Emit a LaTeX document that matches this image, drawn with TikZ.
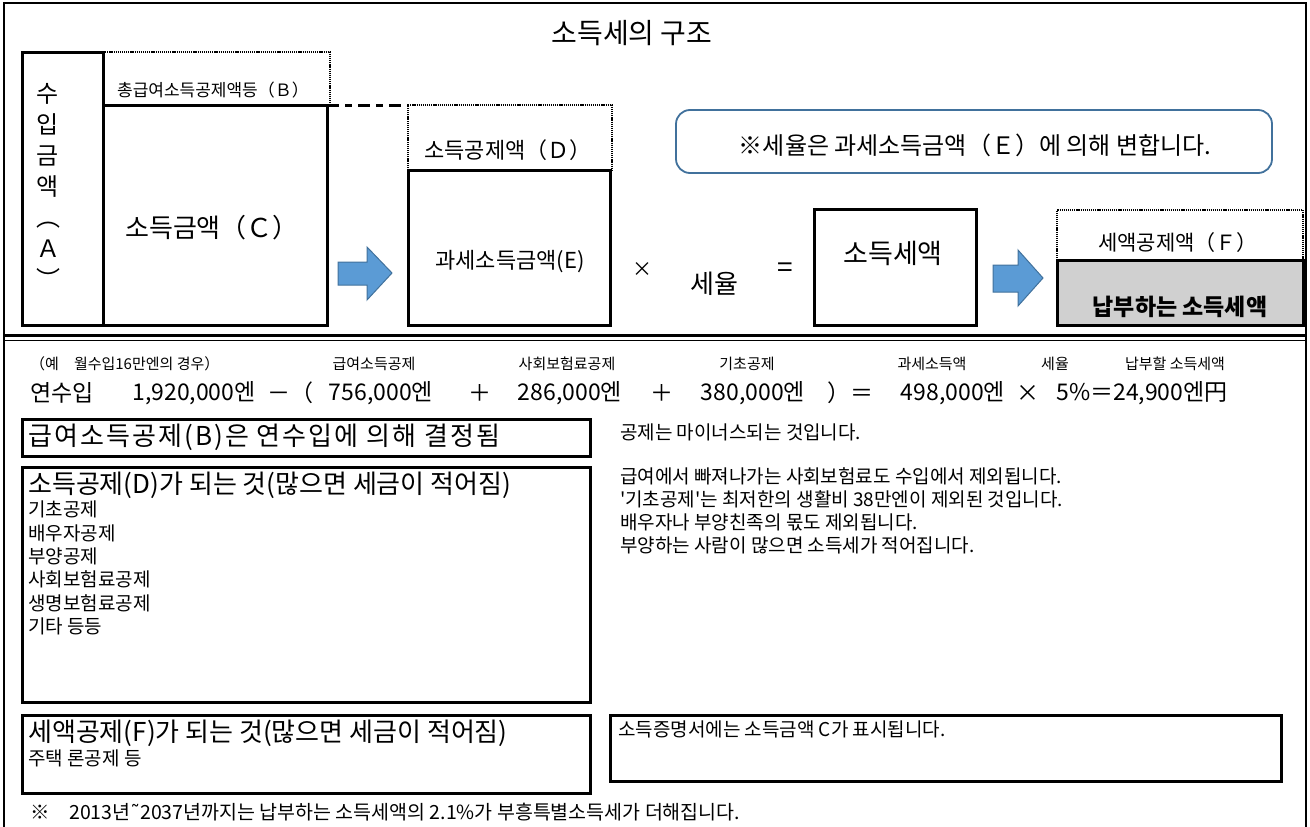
\documentclass[tikz,border=0pt]{standalone}
\usepackage{fontspec}
\setmainfont{Noto Sans CJK KR}
\newfontfamily\symfont{DejaVu Sans}
\usepackage{xcolor}

\definecolor{arrowblue}{HTML}{5B9BD5}
\definecolor{arrowedge}{HTML}{41719C}
\definecolor{paygray}{HTML}{D0D0D0}

\newcommand{\ksize}[1]{\fontsize{#1}{#1}\selectfont}

\tikzset{
    thickbox/.style = {line width = 3pt},
    dotline/.style = {line width = 1.3pt, dash pattern = on 1.2pt off 0.9pt},
    blockarrow/.style = {fill = arrowblue, draw = arrowedge, line width = 1pt},
    txt/.style = {inner sep = 0pt, anchor = west},
}

\begin{document}
\begin{tikzpicture}[x = 1pt, y = -1pt]
        \useasboundingbox (0, 0) rectangle (1310, 827);

        % frame and separator
        \draw[line width = 1.2pt] (4, 827) -- (4, 3) -- (1306, 3) -- (1306, 827);
        \draw[line width = 3pt] (4, 335) -- (1306, 335);
        \draw[line width = 1pt] (4, 340) -- (1306, 340);

        \node (title) at (632, 33) {\ksize{28}소득세의 구조};

        % income boxes
        \draw[thickbox] (22, 52) rectangle (103, 325);
        \draw[thickbox] (103, 105) rectangle (327, 325);
        \draw[dotline] (103, 52) -- (330, 52) -- (330, 105);
        \node[align = center, font = {\fontsize{24}{31}\selectfont}] (suip) at (48, 186)
            {수\\입\\금\\액\\︵\\Ａ\\︶};
        \node (blabel) at (213, 90) {\ksize{17}총급여소득공제액등（Ｂ）};
        \node (clabel) at (212, 228) {\ksize{26}소득금액（Ｃ）};

        \coordinate (ctop) at (327, 105);
        \coordinate (dtop) at (408, 105);
        \draw[line width = 3pt, dash pattern = on 12pt off 6pt on 7pt off 6pt] (ctop) -- (dtop);

        \draw[blockarrow] (338, 262) -- (367, 262) -- (367, 247) -- (392, 273)
            -- (367, 300) -- (367, 285) -- (338, 285) -- cycle;

        % taxable income
        \draw[dotline] (408, 170) -- (408, 105) -- (612, 105) -- (612, 170);
        \draw[thickbox] (408, 170) rectangle (610, 325);
        \node (dlabel) at (508, 150) {\ksize{22}소득공제액（Ｄ）};
        \node (elabel) at (510, 262) {\ksize{22}과세소득금액(E)};

        \node (times) at (642, 270) {\ksize{20}×};
        \node (rate) at (714, 284) {\ksize{26}세율};
        \node (equals) at (785, 270) {\ksize{28}=};

        \draw[thickbox] (814, 209) rectangle (976, 325);
        \node (taxlabel) at (893, 253) {\ksize{27}소득세액};

        \draw[blockarrow] (993, 265) -- (1018, 265) -- (1018, 250) -- (1043, 278)
            -- (1018, 306) -- (1018, 292) -- (993, 292) -- cycle;

        \draw[dotline] (1057, 260) -- (1057, 210) -- (1303, 210) -- (1303, 260);
        \draw[thickbox, fill = paygray] (1057, 260) rectangle (1303, 325);
        \node (flabel) at (1178, 243) {\ksize{21}세액공제액（Ｆ）};
        \node (paylabel) at (1180, 307) {\ksize{23}\bfseries 납부하는 소득세액};

        \draw[arrowedge, line width = 1.8pt, rounded corners = 14pt] (676, 110) rectangle (1272, 173);
        \node (note) at (975, 145) {\ksize{24}※세율은 과세소득금액（Ｅ）에 의해 변합니다.};

        % example calculation
        \node[txt] (example) at (30, 364) {\ksize{15}（예　월수입16만엔의 경우）};
        \node (kyuyo) at (374, 364) {\ksize{15}급여소득공제};
        \node (shakai) at (567, 364) {\ksize{15}사회보험료공제};
        \node (kiso) at (747, 364) {\ksize{15}기초공제};
        \node (kazei) at (932, 364) {\ksize{15}과세소득액};
        \node (zeiritsu) at (1055, 364) {\ksize{15}세율};
        \node (nofu) at (1175, 364) {\ksize{15}납부할 소득세액};

        \node[txt] (nen) at (30, 393) {\ksize{23}연수입};
        \node (v1) at (194, 393) {\ksize{23}1,920,000엔};
        \node (op1) at (290, 393) {\ksize{23}－（};
        \node (v2) at (381, 393) {\ksize{23}756,000엔};
        \node (op2) at (480, 393) {\ksize{23}＋};
        \node (v3) at (570, 393) {\ksize{23}286,000엔};
        \node (op3) at (662, 393) {\ksize{23}＋};
        \node (v4) at (753, 393) {\ksize{23}380,000엔};
        \node (op4) at (850, 393) {\ksize{23}）＝};
        \node (v5) at (953, 393) {\ksize{23}498,000엔};
        \node (op5) at (1028, 393) {\ksize{23}×};
        \node (v6) at (1142, 393) {\ksize{23}5\%＝24,900엔円};

        % explanation boxes
        \draw[thickbox] (22, 419) rectangle (590, 456);
        \node[txt] (bhead) at (28, 437) {\ksize{26}\addfontfeature{LetterSpace=8}급여소득공제(B)은 연수입에 의해 결정됨};
        \node[txt] (bnote) at (620, 432) {\ksize{19}공제는 마이너스되는 것입니다.};

        \draw[thickbox] (22, 467) rectangle (590, 702);
        \node[txt] (dhead) at (28, 485) {\ksize{26}소득공제(D)가 되는 것(많으면 세금이 적어짐)};
        \node[txt, anchor = north west, align = left, font = {\fontsize{19}{23.3}\selectfont}] (dlist) at (28, 501)
            {기초공제\\배우자공제\\부양공제\\사회보험료공제\\생명보험료공제\\기타 등등};
        \node[txt, anchor = north west, align = left, font = {\fontsize{19}{23}\selectfont}] (dnote) at (620, 467)
            {급여에서 빠져나가는 사회보험료도 수입에서 제외됩니다.\\
             \textquotesingle 기초공제\textquotesingle 는 최저한의 생활비 38만엔이 제외된 것입니다.\\
             배우자나 부양친족의 몫도 제외됩니다.\\
             부양하는 사람이 많으면 소득세가 적어집니다.};

        \draw[thickbox] (22, 715) rectangle (590, 793);
        \node[txt] (fhead) at (28, 733) {\ksize{26}세액공제(F)가 되는 것(많으면 세금이 적어짐)};
        \node[txt] (flist) at (28, 758) {\ksize{19}주택 론공제 등};

        \draw[thickbox] (610, 715) rectangle (1281, 781);
        \node[txt] (cnote) at (618, 729) {\ksize{19}소득증명서에는 소득금액 C가 표시됩니다.};

        \node[txt] (foot) at (30, 812) {\ksize{19.5}※　2013년{\symfont ˜}2037년까지는 납부하는 소득세액의 2.1\%가 부흥특별소득세가 더해집니다.};
\end{tikzpicture}
\end{document}
